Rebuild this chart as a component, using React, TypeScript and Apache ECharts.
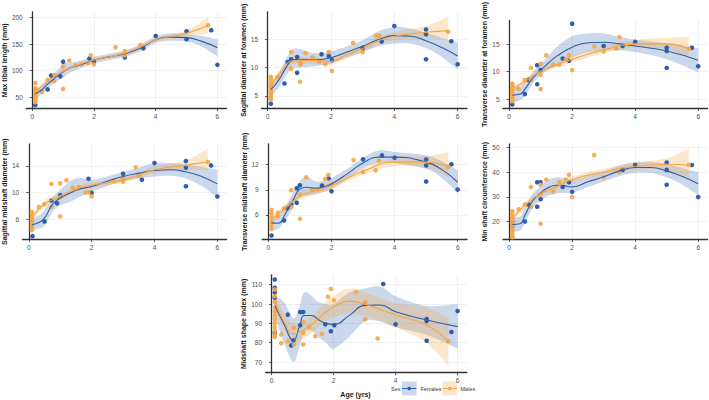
import React, { useEffect, useRef } from "react";
import * as echarts from "echarts";

type Pt = [number, number];
type Fit = [number, number, number, number]; // age, fit, lower, upper

const AGE_TICKS = [0, 2, 4, 6];

// ---------- Panel 1: Max tibial length ----------
const tibFemalePts: Pt[] = [[0.1, 36], [0.5, 65], [0.61, 91], [0.91, 89.5], [1.0, 117], [1.85, 123], [2.0, 117], [3.0, 125], [3.6, 142], [4.0, 165], [5.0, 174], [5.0, 159], [5.8, 176], [6.0, 111]];
const tibMalePts: Pt[] = [[0.1, 77], [0.1, 67], [0.1, 64], [0.1, 61], [0.1, 58], [0.1, 55], [0.1, 52], [0.1, 49], [0.1, 45], [0.1, 41], [0.32, 60], [0.5, 83], [0.71, 81], [0.72, 92], [1.0, 66], [1.0, 108], [1.2, 119], [1.4, 110], [1.6, 112], [1.8, 114], [1.9, 129], [2.0, 112], [2.7, 144], [3.0, 137], [3.0, 129], [3.5, 148], [5.7, 185]];
const tibFemaleFit: Fit[] = [[0.1, 57, 47, 67], [0.3, 64, 56, 72], [0.5, 75, 67, 83], [0.75, 87, 78, 96], [1.0, 98, 87, 113], [1.25, 106, 97, 116], [1.5, 110, 103, 118], [2.0, 120, 114, 126], [2.5, 126, 120, 132], [3.0, 132, 126, 138], [3.5, 142, 136, 149], [4.0, 158, 152, 164], [4.5, 163, 156, 170], [5.0, 162, 155, 169], [5.5, 155, 145, 165], [6.0, 143, 127, 159]];
const tibMaleFit: Fit[] = [[0.1, 59, 55, 63], [0.5, 80, 77, 84], [1.0, 99, 95, 102], [1.5, 111, 108, 114], [2.0, 120, 117, 123], [3.0, 133, 130, 136], [3.6, 147, 144, 150], [4.0, 158, 155, 161], [5.0, 170, 164, 176], [5.7, 185, 170, 200]];
const tibTicks = [50, 100, 150, 200];

// ---------- Panel 2: Sagittal diameter at foramen ----------
const sagForFemalePts: Pt[] = [[0.1, 3.6], [0.53, 7.2], [0.63, 11.0], [0.74, 11.5], [0.93, 11.9], [0.93, 9.1], [1.7, 12.4], [1.93, 12.1], [2.03, 11.35], [3.0, 13.5], [3.6, 14.65], [4.0, 17.4], [5.0, 16.8], [5.0, 15.95], [5.0, 11.5], [5.8, 14.7], [6.0, 10.6]];
const sagForMalePts: Pt[] = [[0.1, 8.4], [0.1, 8.0], [0.1, 7.4], [0.1, 7.0], [0.1, 6.6], [0.1, 6.2], [0.1, 5.8], [0.1, 5.4], [0.1, 5.0], [0.1, 4.6], [0.1, 4.3], [0.32, 8.4], [0.74, 12.8], [0.74, 9.8], [1.03, 10.6], [1.03, 10.9], [1.02, 7.5], [1.2, 12.6], [1.42, 11.8], [1.63, 11.0], [1.82, 10.6], [1.93, 12.8], [2.03, 9.4], [2.7, 14.4], [3.0, 12.8], [3.42, 15.7], [3.53, 15.7], [5.7, 16.4]];
const sagForFemaleFit: Fit[] = [[0.1, 6.1, 4.9, 7.4], [0.35, 7.8, 6.5, 9.1], [0.6, 10.2, 8.8, 11.8], [0.8, 11.4, 9.9, 13.3], [1.0, 11.5, 10.0, 13.3], [1.5, 11.4, 10.3, 12.6], [2.0, 11.8, 10.8, 12.9], [2.5, 12.8, 11.8, 13.8], [3.0, 13.8, 12.8, 14.9], [3.5, 15.0, 13.8, 16.5], [4.0, 15.7, 14.3, 17.2], [4.5, 15.6, 14.3, 17.0], [5.0, 14.8, 13.5, 16.2], [5.5, 13.6, 11.9, 15.3], [6.0, 12.1, 9.7, 14.5]];
const sagForMaleFit: Fit[] = [[0.1, 7.0, 6.4, 7.6], [0.4, 9.0, 8.3, 9.7], [0.75, 11.2, 10.5, 11.9], [1.0, 11.3, 10.7, 11.9], [1.5, 11.3, 10.7, 11.9], [2.0, 11.1, 10.5, 11.7], [2.5, 12.3, 11.7, 12.9], [3.0, 13.4, 12.8, 14.0], [3.5, 14.8, 14.1, 15.5], [4.0, 15.6, 14.9, 16.3], [5.0, 16.3, 15.3, 17.4], [5.7, 16.6, 15.0, 19.1]];
const sagForTicks = [5, 10, 15];

// ---------- Panel 3: Transverse diameter at foramen ----------
const trForFemalePts: Pt[] = [[0.1, 4.0], [0.5, 5.9], [0.62, 8.5], [0.89, 7.7], [0.89, 11.2], [1.0, 10.3], [1.7, 12.4], [1.9, 12.0], [2.0, 18.8], [3.0, 14.7], [3.6, 14.7], [4.0, 15.45], [5.0, 14.4], [5.0, 13.8], [5.0, 10.7], [5.8, 14.4], [6.0, 11.0]];
const trForMalePts: Pt[] = [[0.1, 7.8], [0.1, 7.4], [0.1, 7.0], [0.1, 6.6], [0.1, 6.2], [0.1, 5.8], [0.1, 5.4], [0.1, 5.0], [0.1, 4.6], [0.3, 6.85], [0.5, 8.5], [0.69, 10.7], [0.69, 8.5], [1.0, 11.45], [1.0, 9.4], [1.0, 6.85], [1.18, 13.0], [1.4, 11.3], [1.59, 11.25], [1.8, 12.25], [1.9, 13.0], [2.0, 10.3], [2.7, 14.6], [3.0, 13.7], [3.4, 14.3], [3.5, 16.35], [5.7, 14.2]];
const trForFemaleFit: Fit[] = [[0.1, 5.7, 4.3, 7.2], [0.35, 5.9, 4.8, 7.1], [0.5, 6.8, 5.6, 8.1], [0.75, 8.8, 7.8, 9.9], [1.0, 10.3, 9.4, 11.3], [1.25, 11.6, 10.4, 12.9], [1.5, 12.8, 11.2, 14.5], [2.0, 14.5, 12.6, 16.5], [2.5, 15.3, 13.6, 17.0], [3.0, 15.4, 13.9, 17.0], [3.5, 15.1, 13.9, 16.4], [4.0, 14.7, 13.6, 15.9], [5.0, 13.8, 12.3, 15.2], [6.0, 12.1, 9.9, 14.3]];
const trForMaleFit: Fit[] = [[0.1, 6.8, 6.3, 7.3], [0.5, 8.2, 7.7, 8.7], [1.0, 10.1, 9.6, 10.6], [1.5, 11.2, 10.7, 11.7], [2.0, 12.3, 11.7, 12.9], [3.0, 14.0, 13.4, 14.6], [4.0, 15.1, 14.4, 15.8], [5.0, 15.1, 14.1, 16.2], [5.7, 14.2, 12.6, 16.4]];
const trForTicks = [5, 10, 15];

// ---------- Panel 4: Sagittal midshaft diameter ----------
const sagMidFemalePts: Pt[] = [[0.12, 3.5], [0.5, 5.7], [0.72, 8.8], [0.9, 8.4], [1.0, 9.6], [1.9, 12.05], [2.0, 9.95], [3.0, 12.8], [3.6, 11.9], [4.0, 14.4], [5.0, 14.7], [5.0, 13.7], [5.0, 10.95], [5.8, 14.05], [6.0, 9.4]];
const sagMidMalePts: Pt[] = [[0.1, 7.1], [0.1, 6.7], [0.1, 6.3], [0.1, 5.9], [0.1, 5.5], [0.1, 5.1], [0.1, 4.7], [0.1, 4.4], [0.32, 7.85], [0.5, 8.25], [0.72, 11.3], [0.72, 7.9], [1.0, 11.4], [1.0, 9.3], [1.0, 6.45], [1.2, 11.85], [1.4, 10.75], [1.6, 10.85], [1.8, 10.0], [1.9, 10.05], [2.0, 9.45], [2.7, 11.75], [3.0, 12.1], [3.0, 11.6], [3.4, 13.8], [3.5, 12.5], [5.7, 14.55]];
const sagMidFemaleFit: Fit[] = [[0.1, 5.2, 4.4, 6.1], [0.3, 5.5, 4.6, 6.5], [0.5, 6.2, 5.0, 7.4], [0.75, 8.2, 7.1, 9.3], [1.0, 9.2, 8.1, 10.4], [1.3, 9.9, 8.6, 11.6], [1.6, 10.5, 9.3, 12.2], [2.0, 10.9, 10.1, 11.9], [2.5, 11.7, 11.0, 12.4], [3.0, 12.4, 11.7, 13.1], [3.5, 12.9, 12.1, 13.7], [4.0, 13.3, 12.4, 14.4], [4.5, 13.4, 12.5, 14.4], [5.0, 13.1, 12.1, 14.2], [5.5, 12.4, 11.0, 13.8], [6.0, 11.3, 9.3, 13.4]];
const sagMidMaleFit: Fit[] = [[0.1, 6.2, 5.8, 6.7], [0.5, 8.3, 7.9, 8.8], [1.0, 9.4, 9.0, 9.8], [1.6, 10.7, 10.3, 11.1], [2.0, 11.1, 10.7, 11.5], [3.0, 11.9, 11.5, 12.3], [3.5, 12.6, 12.2, 13.0], [4.0, 13.4, 12.9, 13.9], [5.0, 14.1, 13.4, 14.8], [5.7, 14.6, 13.3, 16.6]];
const sagMidTicks = [6, 10, 14];

// ---------- Panel 5: Transverse midshaft diameter ----------
const trMidFemalePts: Pt[] = [[0.1, 3.55], [0.5, 5.33], [0.6, 6.84], [0.72, 7.24], [0.9, 7.44], [0.9, 9.18], [1.0, 9.54], [1.7, 9.5], [1.91, 10.37], [2.0, 8.83], [3.0, 12.63], [3.6, 13.1], [4.0, 12.83], [5.0, 12.6], [5.0, 11.9], [5.0, 9.98], [5.8, 12.04], [6.0, 9.02]];
const trMidMalePts: Pt[] = [[0.1, 6.6], [0.1, 6.2], [0.1, 5.8], [0.1, 5.4], [0.1, 5.0], [0.1, 4.6], [0.1, 4.3], [0.3, 6.25], [0.3, 5.8], [0.5, 6.76], [0.72, 8.94], [0.72, 6.96], [1.0, 8.43], [1.0, 5.53], [1.2, 10.5], [1.4, 9.0], [1.6, 9.1], [1.8, 10.3], [1.9, 10.77], [2.0, 9.66], [2.7, 12.55], [3.0, 11.13], [3.4, 11.33], [3.5, 12.48], [5.7, 11.72]];
const trMidFemaleFit: Fit[] = [[0.1, 5.05, 4.4, 5.8], [0.3, 5.0, 4.3, 5.8], [0.55, 6.2, 5.4, 7.0], [0.8, 7.9, 7.0, 8.8], [1.0, 9.1, 8.2, 10.0], [1.2, 9.3, 8.3, 10.6], [1.5, 9.2, 8.5, 10.0], [1.8, 9.4, 8.8, 10.1], [2.0, 9.7, 9.1, 10.4], [2.5, 10.9, 10.3, 11.5], [3.0, 12.2, 11.6, 12.8], [3.5, 12.9, 12.2, 13.7], [4.0, 12.9, 12.2, 13.5], [5.0, 12.3, 11.5, 13.1], [5.5, 11.4, 10.4, 12.4], [6.0, 9.9, 8.6, 11.3]];
const trMidMaleFit: Fit[] = [[0.1, 5.5, 5.1, 5.9], [0.5, 6.7, 6.3, 7.1], [1.0, 8.2, 7.8, 8.7], [1.6, 9.0, 8.6, 9.4], [2.0, 9.5, 9.1, 9.9], [3.0, 11.2, 10.8, 11.6], [4.0, 12.3, 11.8, 12.8], [5.0, 12.3, 11.6, 13.0], [5.7, 11.7, 10.6, 13.5]];
const trMidTicks = [6, 9, 12];

// ---------- Panel 6: Min shaft circumference ----------
const circFemalePts: Pt[] = [[0.1, 18], [0.1, 20], [0.5, 20.0], [0.62, 26.9], [0.89, 35.9], [0.89, 26.0], [1.0, 35.9], [1.0, 29.0], [1.7, 34.0], [1.9, 35.9], [2.0, 32.0], [3.6, 40.9], [4.0, 42.9], [5.0, 43.9], [5.0, 40.9], [5.0, 34.9], [5.8, 42.9], [6.0, 29.9]];
const circMalePts: Pt[] = [[0.1, 24.2], [0.1, 23], [0.1, 22], [0.1, 21], [0.1, 20], [0.1, 19], [0.1, 18], [0.1, 17], [0.1, 16], [0.1, 15], [0.1, 14], [0.1, 13.6], [0.3, 25.0], [0.5, 26.9], [0.69, 34.0], [0.69, 26.0], [1.0, 34.9], [1.0, 30.9], [1.0, 19.1], [1.18, 37.0], [1.4, 32.0], [1.59, 36.0], [1.8, 37.0], [1.9, 38.9], [2.0, 29.9], [2.7, 46.9], [3.0, 37.9], [3.5, 40.0], [5.7, 42.9]];
const circFemaleFit: Fit[] = [[0.1, 18.8, 15.8, 21.9], [0.35, 19.1, 16.3, 22.0], [0.5, 22.5, 19.4, 25.5], [0.75, 28.4, 25.5, 31.3], [1.0, 31.5, 28.5, 34.3], [1.25, 33.8, 30.5, 37.0], [1.6, 34.7, 31.5, 37.8], [2.0, 34.0, 31.6, 36.8], [2.5, 36.1, 34.0, 38.3], [3.0, 38.1, 36.1, 40.2], [3.5, 40.5, 38.4, 42.7], [4.0, 41.9, 39.7, 44.0], [4.5, 41.9, 39.6, 44.2], [5.0, 40.5, 37.8, 43.3], [5.5, 38.2, 34.9, 41.6], [6.0, 35.3, 30.6, 40.0]];
const circMaleFit: Fit[] = [[0.1, 21.1, 19.8, 22.4], [0.5, 26.5, 25.2, 27.8], [1.0, 31.3, 30.1, 32.5], [1.5, 34.0, 32.8, 35.2], [2.0, 37.0, 35.8, 38.3], [3.0, 40.1, 38.8, 41.4], [4.0, 42.4, 40.9, 43.9], [5.0, 43.2, 40.9, 45.6], [5.7, 42.9, 37.5, 49.6]];
const circTicks = [20, 30, 40, 50];

// ---------- Panel 7: Midshaft shape index ----------
const shapeFemalePts: Pt[] = [[0.1, 112.7], [0.1, 108.4], [0.1, 105.9], [0.1, 103.3], [0.1, 85], [0.52, 94.5], [0.63, 78.6], [0.7, 81.2], [0.92, 89], [0.92, 95.9], [1.02, 95.9], [1.73, 89.5], [1.91, 85.9], [2.02, 89], [3.0, 100], [3.6, 110.3], [4.0, 89.5], [5.0, 92.2], [5.0, 91.2], [5.0, 81], [5.8, 85.5], [6.0, 96.4]];
const shapeMalePts: Pt[] = [[0.1, 107.5], [0.1, 104], [0.1, 101], [0.1, 98], [0.1, 96], [0.1, 94], [0.1, 92], [0.1, 90], [0.1, 88], [0.1, 86], [0.1, 84], [0.1, 83], [0.31, 79.7], [0.31, 84.3], [0.52, 80.7], [0.72, 87.6], [0.72, 79.1], [1.02, 85.2], [1.02, 90.9], [1.02, 79.1], [1.21, 88.1], [1.41, 83.3], [1.62, 84.5], [1.82, 103.8], [1.91, 107.8], [2.01, 101.9], [2.72, 106.2], [3.02, 100.9], [3.02, 99.5], [3.02, 92.1], [3.42, 82.2], [5.7, 80.7]];
const shapeFemaleFit: Fit[] = [[0.1, 99.3, 94, 104], [0.4, 89.5, 80, 101], [0.7, 81.2, 70, 92.5], [0.9, 88.5, 78, 99], [1.05, 94.1, 85.5, 106], [1.3, 94.1, 86, 104], [1.5, 92, 83, 101], [1.75, 90, 80, 100], [2.0, 89.5, 77, 100], [2.5, 94, 83, 106], [3.0, 99.3, 91, 108], [3.5, 99.5, 91, 109], [4.0, 96, 88, 104], [5.0, 91.7, 84, 99], [6.0, 88.3, 77, 100]];
const shapeMaleFit: Fit[] = [[0.1, 101.9, 98, 105], [0.4, 91, 87, 95], [0.71, 84.6, 80, 89.5], [1.0, 86.3, 82, 91], [1.3, 89.5, 85, 94], [1.65, 94.5, 90, 99.5], [2.0, 98.5, 93, 104], [2.5, 101.5, 95, 108], [3.0, 100, 94, 106], [4.0, 94.3, 88, 100.5], [5.0, 89.1, 80, 98], [5.7, 80.5, 68, 93]];
const shapeTicks = [70, 80, 90, 100, 110];

const FEMALE = "#2E5EAA";
const MALE = "#F5A548";
const FEMALE_BAND = "rgba(46,94,170,0.25)";
const MALE_BAND = "rgba(245,165,72,0.27)";
const FONT = "Liberation Sans, Arial, sans-serif";

const panels = [
  { title: "Max tibial length (mm)", f: tibFemalePts, m: tibMalePts, ff: tibFemaleFit, mf: tibMaleFit, ticks: tibTicks, ymin: 29.3, ymax: 210, left: 25, top: 12, width: 201.5, height: 96.5, gap: 16.5 },
  { title: "Sagittal diameter at foramen (mm)", f: sagForFemalePts, m: sagForMalePts, ff: sagForFemaleFit, mf: sagForMaleFit, ticks: sagForTicks, ymin: 2.76, ymax: 19.9, left: 261.5, top: 12, width: 205.5, height: 96.5, gap: 12 },
  { title: "Transverse diameter at foramen (mm)", f: trForFemalePts, m: trForMalePts, ff: trForFemaleFit, mf: trForMaleFit, ticks: trForTicks, ymin: 3.26, ymax: 19.4, left: 503, top: 12, width: 204.5, height: 96.5, gap: 14 },
  { title: "Sagittal midshaft diameter (mm)", f: sagMidFemalePts, m: sagMidMalePts, ff: sagMidFemaleFit, mf: sagMidMaleFit, ticks: sagMidTicks, ymin: 3.0, ymax: 17.25, left: 21.1, top: 144, width: 205.5, height: 95.5, gap: 13 },
  { title: "Transverse midshaft diameter (mm)", f: trMidFemalePts, m: trMidMalePts, ff: trMidFemaleFit, mf: trMidMaleFit, ticks: trMidTicks, ymin: 3.07, ymax: 14.46, left: 262.2, top: 144, width: 204.8, height: 95.5, gap: 13 },
  { title: "Min shaft circumference (mm)", f: circFemalePts, m: circMalePts, ff: circFemaleFit, mf: circMaleFit, ticks: circTicks, ymin: 12.7, ymax: 51.4, left: 503, top: 144, width: 204.5, height: 95.5, gap: 13.5 },
  { title: "Midshaft shape index (mm)", f: shapeFemalePts, m: shapeMalePts, ff: shapeFemaleFit, mf: shapeMaleFit, ticks: shapeTicks, ymin: 64.5, ymax: 115, left: 265.6, top: 275, width: 201.2, height: 97.7, gap: 15 },
];

// Smooth confidence ribbon: upper edge left->right, lower edge right->left (Catmull-Rom rendering)
function smoothTo(ctx: any, pts: number[][], move: boolean) {
  const n = pts.length;
  if (move) ctx.moveTo(pts[0][0], pts[0][1]);
  else ctx.lineTo(pts[0][0], pts[0][1]);
  for (let i = 0; i < n - 1; i++) {
    const p0 = pts[i - 1] || pts[i];
    const p1 = pts[i];
    const p2 = pts[i + 1];
    const p3 = pts[i + 2] || pts[i + 1];
    const t = 1 / 6;
    ctx.bezierCurveTo(
      p1[0] + (p2[0] - p0[0]) * t, p1[1] + (p2[1] - p0[1]) * t,
      p2[0] - (p3[0] - p1[0]) * t, p2[1] - (p3[1] - p1[1]) * t,
      p2[0], p2[1]
    );
  }
}
const Ribbon = echarts.graphic.extendShape({
  shape: { upper: [] as number[][], lower: [] as number[][] },
  buildPath(ctx: any, shape: any) {
    if (!shape.upper.length) return;
    smoothTo(ctx, shape.upper, true);
    smoothTo(ctx, shape.lower, false);
    ctx.closePath();
  },
});
echarts.graphic.registerShape("ciRibbon", Ribbon);

function buildOption() {
  const grid: any[] = [];
  const xAxis: any[] = [];
  const yAxis: any[] = [];
  const series: any[] = [];
  const axisLine = { show: true, lineStyle: { color: "#333333", width: 1.3 } };
  const split = { show: true, lineStyle: { color: "#EBEBEB", width: 0.7 } };
  panels.forEach((p, i) => {
    grid.push({ left: p.left, top: p.top, width: p.width, height: p.height, containLabel: false });
    xAxis.push({
      type: "value", gridIndex: i, min: -0.195, max: 6.295,
      axisLine, splitLine: split,
      axisTick: { show: true, customValues: AGE_TICKS, length: 2.5, lineStyle: { color: "#333333", width: 0.8 } },
      axisLabel: { customValues: AGE_TICKS, fontSize: 6.5, color: "#4D4D4D", margin: 4, fontFamily: FONT },
    });
    yAxis.push({
      type: "value", gridIndex: i, min: p.ymin, max: p.ymax,
      axisLine, splitLine: split,
      axisTick: { show: true, customValues: p.ticks, length: 2.5, lineStyle: { color: "#333333", width: 0.8 } },
      axisLabel: { customValues: p.ticks, fontSize: 6.5, color: "#4D4D4D", margin: 3.5, fontFamily: FONT },
      name: p.title, nameLocation: "middle", nameGap: p.gap, nameRotate: 90,
      nameTextStyle: { fontSize: 7, fontWeight: "bold", color: "#1A1A1A", fontFamily: FONT },
    });
    const sexes = [
      { key: "F", fit: p.ff, pts: p.f, color: FEMALE, band: FEMALE_BAND, op: 1 },
      { key: "M", fit: p.mf, pts: p.m, color: MALE, band: MALE_BAND, op: 0.9 },
    ];
    sexes.forEach((s) => {
      const fit = s.fit;
      series.push({
        type: "custom", xAxisIndex: i, yAxisIndex: i, z: 1, silent: true,
        data: fit.map((r) => [r[0], r[2], r[3]]),
        encode: { x: 0, y: [1, 2] },
        renderItem: (params: any, api: any) => {
          if (params.dataIndex !== 0) return null;
          const upper = fit.map((r) => api.coord([r[0], r[3]]));
          const lower = fit.map((r) => api.coord([r[0], r[2]])).reverse();
          return { type: "ciRibbon", shape: { upper, lower }, style: { fill: s.band, stroke: "none" } };
        },
      });
    });
    sexes.forEach((s) => {
      series.push({
        type: "scatter", xAxisIndex: i, yAxisIndex: i, symbolSize: 4.6, z: 2, silent: true,
        itemStyle: { color: s.color, opacity: s.op },
        data: s.pts,
      });
    });
    sexes.forEach((s) => {
      series.push({
        type: "line", xAxisIndex: i, yAxisIndex: i, smooth: true, symbol: "none", z: 3, silent: true,
        lineStyle: { color: s.color, width: 1.1 },
        data: s.fit.map((r) => [r[0], r[1]]),
      });
    });
  });

  const legendY = 388.5;
  const graphic: any[] = [
    { type: "text", x: 355.5, y: 394, style: { text: "Age (yrs)", font: `bold 7px ${FONT}`, fill: "#1A1A1A", textAlign: "center", textVerticalAlign: "middle" } },
    { type: "text", x: 391, y: legendY, style: { text: "Sex", font: `5.5px ${FONT}`, fill: "#333333", textAlign: "left", textVerticalAlign: "middle" } },
    { type: "rect", shape: { x: 402, y: 381.5, width: 14.5, height: 14 }, style: { fill: FEMALE_BAND } },
    { type: "line", shape: { x1: 402, y1: legendY, x2: 416.5, y2: legendY }, style: { stroke: FEMALE, lineWidth: 1 } },
    { type: "circle", shape: { cx: 409.25, cy: legendY, r: 1.8 }, style: { fill: FEMALE } },
    { type: "text", x: 420.5, y: legendY, style: { text: "Females", font: `5.5px ${FONT}`, fill: "#333333", textAlign: "left", textVerticalAlign: "middle" } },
    { type: "rect", shape: { x: 442.5, y: 381.5, width: 14.5, height: 14 }, style: { fill: MALE_BAND } },
    { type: "line", shape: { x1: 442.5, y1: legendY, x2: 457, y2: legendY }, style: { stroke: MALE, lineWidth: 1 } },
    { type: "circle", shape: { cx: 449.75, cy: legendY, r: 1.8 }, style: { fill: MALE } },
    { type: "text", x: 460.5, y: legendY, style: { text: "Males", font: `5.5px ${FONT}`, fill: "#333333", textAlign: "left", textVerticalAlign: "middle" } },
  ];

  return {
    animation: false,
    backgroundColor: "#FFFFFF",
    textStyle: { fontFamily: FONT },
    grid, xAxis, yAxis, series, graphic,
  };
}

export default function App() {
  const ref = useRef<HTMLDivElement>(null);
  useEffect(() => {
    if (!ref.current) return;
    const chart = echarts.init(ref.current, undefined, { renderer: "svg" });
    chart.setOption(buildOption() as any);
    return () => chart.dispose();
  }, []);
  return <div ref={ref} style={{ position: "absolute", left: 0, top: 0, width: 709, height: 400 }} />;
}
